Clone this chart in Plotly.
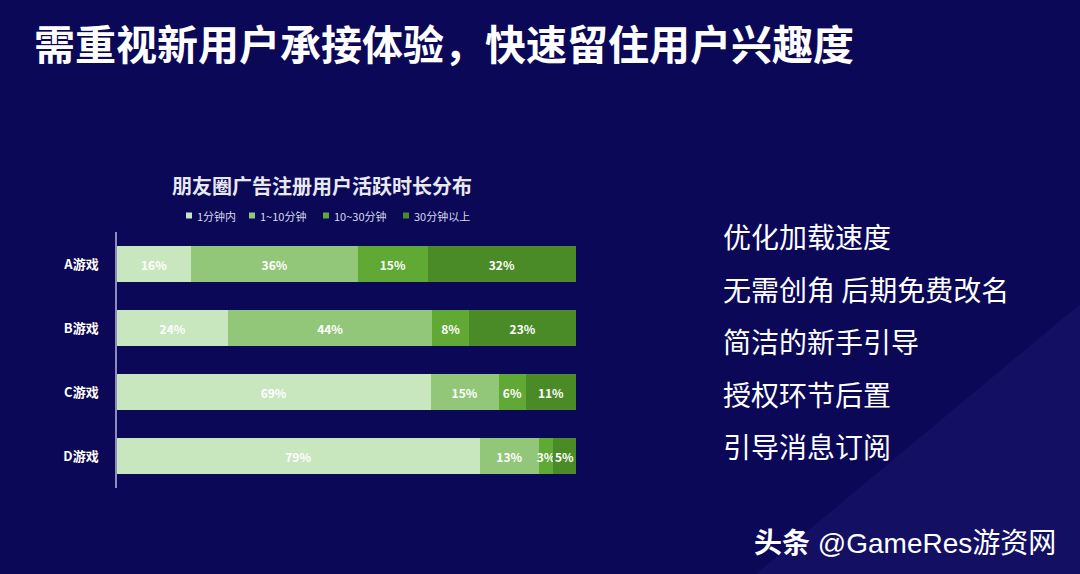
import plotly.graph_objects as go

games = ["A游戏", "B游戏", "C游戏", "D游戏"]
series_names = ["1分钟内", "1~10分钟", "10~30分钟", "30分钟以上"]
s_1min = [16, 24, 69, 79]
s_1_10 = [36, 44, 15, 13]
s_10_30 = [15, 8, 6, 3]
s_30plus = [32, 23, 11, 5]
colors = ["#c9e7bf", "#92c77a", "#5fa934", "#4a8b28"]
tips = ["优化加载速度", "无需创角 后期免费改名", "简洁的新手引导", "授权环节后置", "引导消息订阅"]

BG = "#0b0858"
FONT = "Noto Sans CJK SC"

fig = go.Figure()
for name, vals, col in zip(series_names, [s_1min, s_1_10, s_10_30, s_30plus], colors):
    fig.add_trace(go.Bar(
        y=games, x=vals, name=name, orientation="h",
        marker=dict(color=col, line=dict(width=0)),
        text=[f"{v}%" for v in vals], texttemplate="<b>%{text}</b>",
        textposition="inside", insidetextanchor="middle", constraintext="none",
        textangle=0,
        textfont=dict(color="white", size=12, family=FONT),
        hoverinfo="skip", showlegend=False,
    ))

fig.update_layout(
    width=1080, height=574,
    margin=dict(l=0, r=0, t=0, b=0),
    paper_bgcolor=BG, plot_bgcolor=BG,
    barmode="stack", barnorm="percent", bargap=0.44,
    font=dict(family=FONT, color="white"),
    showlegend=False,
    xaxis=dict(domain=[117/1080, 576/1080], range=[0, 100], visible=False, fixedrange=True),
    yaxis=dict(domain=[1-488/574, 1-232/574], autorange="reversed",
               showline=True, linecolor="#8c8cc0", linewidth=1.5, showgrid=False,
               ticks="", ticklabelstandoff=14,
               tickfont=dict(size=13, color="white", family=FONT, weight=700)),
)

# subtle decorative lighter region bottom-right
fig.add_shape(type="path", xref="paper", yref="paper",
              path="M 1,0.47 L 1,0 L 0.70,0 Z",
              fillcolor="rgba(70,70,170,0.15)", line=dict(width=0), layer="below")

# custom compact legend
legend_x = [186, 249, 323, 403]
for lx, name, col in zip(legend_x, series_names, colors):
    fig.add_shape(type="rect", xref="paper", yref="paper",
                  x0=lx/1080, x1=(lx+6)/1080, y0=1-(218.5)/574, y1=1-(212.5)/574,
                  fillcolor=col, line=dict(width=0))
    fig.add_annotation(text=name, xref="paper", yref="paper",
                       x=(lx+9)/1080, y=1-215.5/574, xanchor="left", yanchor="middle",
                       showarrow=False, font=dict(size=11, color="#d8d8e8", family=FONT))

fig.add_annotation(text="<b>需重视新用户承接体验，快速留住用户兴趣度</b>", xref="paper", yref="paper",
                   x=32/1080, y=1-42/574, xanchor="left", yanchor="middle", showarrow=False,
                   font=dict(size=41, color="white", family=FONT))
fig.add_annotation(text="<b>朋友圈广告注册用户活跃时长分布</b>", xref="paper", yref="paper",
                   x=322/1080, y=1-185/574, xanchor="center", yanchor="middle", showarrow=False,
                   font=dict(size=20, color="#e8e8f0", family=FONT))
for i, t in enumerate(tips):
    fig.add_annotation(text=t, xref="paper", yref="paper",
                       x=721/1080, y=1-(236+52.5*i)/574, xanchor="left", yanchor="middle",
                       showarrow=False, font=dict(size=28, color="white", family=FONT))
fig.add_annotation(text="<b>头条</b> @GameRes游资网", xref="paper", yref="paper",
                   x=752/1080, y=1-543/574, xanchor="left", yanchor="middle", showarrow=False,
                   font=dict(size=28, color="white", family="Liberation Sans, " + FONT))

fig.write_html("out.html")
